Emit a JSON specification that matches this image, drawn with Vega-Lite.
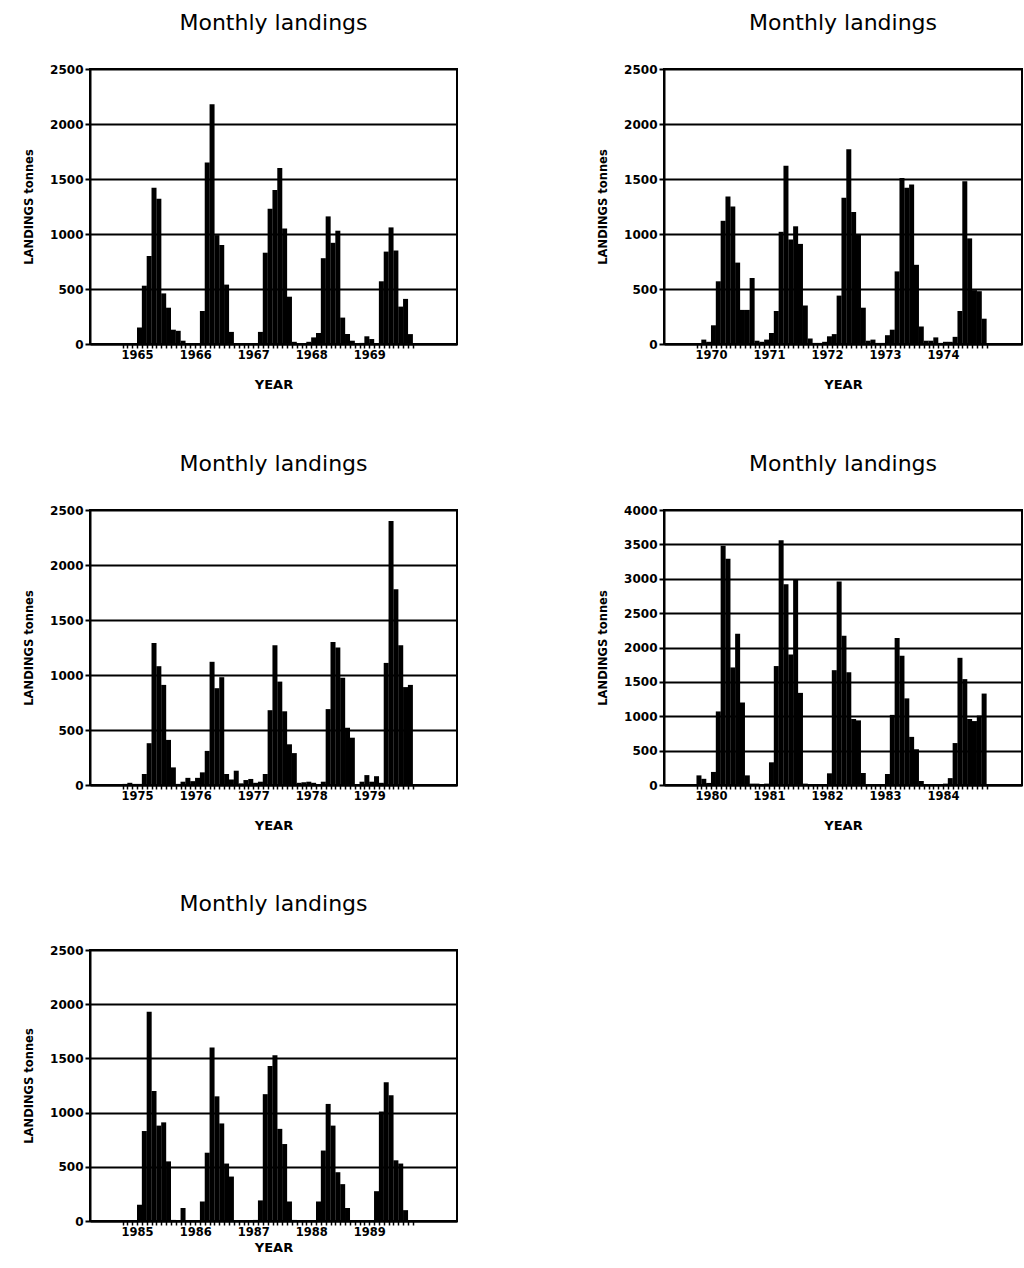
{
  "$schema": "https://vega.github.io/schema/vega-lite/v6.json",
  "background": "white",
  "padding": {"left": 22, "top": 11, "right": 0, "bottom": 0},
  "datasets": {
    "p1": [{"m":0,"v":0},{"m":1,"v":0},{"m":2,"v":5},{"m":3,"v":150},{"m":4,"v":530},{"m":5,"v":800},{"m":6,"v":1420},{"m":7,"v":1320},{"m":8,"v":460},{"m":9,"v":330},{"m":10,"v":130},{"m":11,"v":120},
           {"m":12,"v":30},{"m":13,"v":5},{"m":14,"v":0},{"m":15,"v":0},{"m":16,"v":300},{"m":17,"v":1650},{"m":18,"v":2180},{"m":19,"v":990},{"m":20,"v":900},{"m":21,"v":540},{"m":22,"v":110},{"m":23,"v":0},
           {"m":24,"v":0},{"m":25,"v":0},{"m":26,"v":0},{"m":27,"v":0},{"m":28,"v":110},{"m":29,"v":830},{"m":30,"v":1230},{"m":31,"v":1400},{"m":32,"v":1600},{"m":33,"v":1050},{"m":34,"v":430},{"m":35,"v":20},
           {"m":36,"v":0},{"m":37,"v":0},{"m":38,"v":20},{"m":39,"v":60},{"m":40,"v":100},{"m":41,"v":780},{"m":42,"v":1160},{"m":43,"v":920},{"m":44,"v":1030},{"m":45,"v":240},{"m":46,"v":90},{"m":47,"v":30},
           {"m":48,"v":5},{"m":49,"v":10},{"m":50,"v":70},{"m":51,"v":45},{"m":52,"v":5},{"m":53,"v":570},{"m":54,"v":840},{"m":55,"v":1060},{"m":56,"v":850},{"m":57,"v":340},{"m":58,"v":410},{"m":59,"v":90}],
    "p2": [{"m":0,"v":0},{"m":1,"v":40},{"m":2,"v":20},{"m":3,"v":170},{"m":4,"v":570},{"m":5,"v":1120},{"m":6,"v":1340},{"m":7,"v":1250},{"m":8,"v":740},{"m":9,"v":310},{"m":10,"v":310},{"m":11,"v":600},
           {"m":12,"v":30},{"m":13,"v":20},{"m":14,"v":40},{"m":15,"v":100},{"m":16,"v":300},{"m":17,"v":1020},{"m":18,"v":1620},{"m":19,"v":950},{"m":20,"v":1070},{"m":21,"v":910},{"m":22,"v":350},{"m":23,"v":50},
           {"m":24,"v":10},{"m":25,"v":10},{"m":26,"v":20},{"m":27,"v":70},{"m":28,"v":90},{"m":29,"v":440},{"m":30,"v":1330},{"m":31,"v":1770},{"m":32,"v":1200},{"m":33,"v":1000},{"m":34,"v":330},{"m":35,"v":30},
           {"m":36,"v":40},{"m":37,"v":10},{"m":38,"v":10},{"m":39,"v":80},{"m":40,"v":130},{"m":41,"v":660},{"m":42,"v":1510},{"m":43,"v":1420},{"m":44,"v":1450},{"m":45,"v":720},{"m":46,"v":160},{"m":47,"v":30},
           {"m":48,"v":30},{"m":49,"v":60},{"m":50,"v":10},{"m":51,"v":20},{"m":52,"v":20},{"m":53,"v":65},{"m":54,"v":300},{"m":55,"v":1480},{"m":56,"v":960},{"m":57,"v":490},{"m":58,"v":480},{"m":59,"v":230}],
    "p3": [{"m":0,"v":10},{"m":1,"v":20},{"m":2,"v":10},{"m":3,"v":10},{"m":4,"v":100},{"m":5,"v":380},{"m":6,"v":1290},{"m":7,"v":1080},{"m":8,"v":910},{"m":9,"v":410},{"m":10,"v":160},{"m":11,"v":10},
           {"m":12,"v":30},{"m":13,"v":65},{"m":14,"v":35},{"m":15,"v":65},{"m":16,"v":115},{"m":17,"v":310},{"m":18,"v":1120},{"m":19,"v":880},{"m":20,"v":980},{"m":21,"v":100},{"m":22,"v":50},{"m":23,"v":130},
           {"m":24,"v":15},{"m":25,"v":45},{"m":26,"v":55},{"m":27,"v":20},{"m":28,"v":30},{"m":29,"v":100},{"m":30,"v":680},{"m":31,"v":1270},{"m":32,"v":940},{"m":33,"v":670},{"m":34,"v":370},{"m":35,"v":290},
           {"m":36,"v":20},{"m":37,"v":25},{"m":38,"v":30},{"m":39,"v":20},{"m":40,"v":5},{"m":41,"v":30},{"m":42,"v":690},{"m":43,"v":1300},{"m":44,"v":1250},{"m":45,"v":975},{"m":46,"v":520},{"m":47,"v":430},
           {"m":48,"v":0},{"m":49,"v":30},{"m":50,"v":90},{"m":51,"v":30},{"m":52,"v":80},{"m":53,"v":20},{"m":54,"v":1110},{"m":55,"v":2400},{"m":56,"v":1780},{"m":57,"v":1270},{"m":58,"v":890},{"m":59,"v":910}],
    "p4": [{"m":0,"v":140},{"m":1,"v":90},{"m":2,"v":30},{"m":3,"v":190},{"m":4,"v":1070},{"m":5,"v":3480},{"m":6,"v":3290},{"m":7,"v":1710},{"m":8,"v":2200},{"m":9,"v":1200},{"m":10,"v":140},{"m":11,"v":20},
           {"m":12,"v":20},{"m":13,"v":15},{"m":14,"v":20},{"m":15,"v":330},{"m":16,"v":1730},{"m":17,"v":3560},{"m":18,"v":2920},{"m":19,"v":1900},{"m":20,"v":2990},{"m":21,"v":1340},{"m":22,"v":20},{"m":23,"v":10},
           {"m":24,"v":10},{"m":25,"v":10},{"m":26,"v":10},{"m":27,"v":170},{"m":28,"v":1670},{"m":29,"v":2960},{"m":30,"v":2170},{"m":31,"v":1640},{"m":32,"v":960},{"m":33,"v":940},{"m":34,"v":175},{"m":35,"v":10},
           {"m":36,"v":10},{"m":37,"v":10},{"m":38,"v":5},{"m":39,"v":160},{"m":40,"v":1020},{"m":41,"v":2140},{"m":42,"v":1880},{"m":43,"v":1260},{"m":44,"v":700},{"m":45,"v":520},{"m":46,"v":60},{"m":47,"v":10},
           {"m":48,"v":10},{"m":49,"v":10},{"m":50,"v":10},{"m":51,"v":20},{"m":52,"v":100},{"m":53,"v":610},{"m":54,"v":1850},{"m":55,"v":1540},{"m":56,"v":960},{"m":57,"v":930},{"m":58,"v":1010},{"m":59,"v":1330}],
    "p5": [{"m":0,"v":0},{"m":1,"v":0},{"m":2,"v":5},{"m":3,"v":150},{"m":4,"v":830},{"m":5,"v":1930},{"m":6,"v":1200},{"m":7,"v":880},{"m":8,"v":910},{"m":9,"v":550},{"m":10,"v":10},{"m":11,"v":0},
           {"m":12,"v":120},{"m":13,"v":0},{"m":14,"v":0},{"m":15,"v":0},{"m":16,"v":180},{"m":17,"v":630},{"m":18,"v":1600},{"m":19,"v":1150},{"m":20,"v":900},{"m":21,"v":530},{"m":22,"v":410},{"m":23,"v":0},
           {"m":24,"v":0},{"m":25,"v":0},{"m":26,"v":5},{"m":27,"v":10},{"m":28,"v":190},{"m":29,"v":1170},{"m":30,"v":1430},{"m":31,"v":1530},{"m":32,"v":850},{"m":33,"v":710},{"m":34,"v":180},{"m":35,"v":10},
           {"m":36,"v":5},{"m":37,"v":5},{"m":38,"v":5},{"m":39,"v":5},{"m":40,"v":180},{"m":41,"v":650},{"m":42,"v":1080},{"m":43,"v":880},{"m":44,"v":450},{"m":45,"v":340},{"m":46,"v":120},{"m":47,"v":5},
           {"m":48,"v":0},{"m":49,"v":0},{"m":50,"v":0},{"m":51,"v":0},{"m":52,"v":275},{"m":53,"v":1010},{"m":54,"v":1280},{"m":55,"v":1160},{"m":56,"v":560},{"m":57,"v":530},{"m":58,"v":100},{"m":59,"v":0}]
  },
  "vconcat": [
    {
      "vconcat": [
        {
          "hconcat": [
            {
              "width": 367, "height": 275,
              "title": {"text": "Monthly landings"},
              "data": {"name": "p1"},
              "mark": {"type": "bar", "width": 5, "color": "black"},
              "encoding": {
                "x": {"field": "m", "type": "quantitative", "scale": {"domain": [-6.2, 67.6], "nice": false, "zero": false},
                      "axis": {"values": [-0.5,0.5,1.5,2.5,3.5,4.5,5.5,6.5,7.5,8.5,9.5,10.5,11.5,12.5,13.5,14.5,15.5,16.5,17.5,18.5,19.5,20.5,21.5,22.5,23.5,24.5,25.5,26.5,27.5,28.5,29.5,30.5,31.5,32.5,33.5,34.5,35.5,36.5,37.5,38.5,39.5,40.5,41.5,42.5,43.5,44.5,45.5,46.5,47.5,48.5,49.5,50.5,51.5,52.5,53.5,54.5,55.5,56.5,57.5,58.5,59.5],
                               "labelExpr": "datum.value % 12 == 2.5 ? '' + (1965 + floor(datum.value / 12)) : ''", "title": "YEAR"}},
                "y": {"field": "v", "type": "quantitative", "scale": {"domain": [0, 2500], "nice": false},
                      "axis": {"values": [0,500,1000,1500,2000,2500], "format": "d", "title": "LANDINGS tonnes"}}
              }
            },
            {
              "width": 358, "height": 275,
              "title": {"text": "Monthly landings"},
              "data": {"name": "p2"},
              "mark": {"type": "bar", "width": 5, "color": "black"},
              "encoding": {
                "x": {"field": "m", "type": "quantitative", "scale": {"domain": [-6.2, 65.8], "nice": false, "zero": false},
                      "axis": {"values": [-0.5,0.5,1.5,2.5,3.5,4.5,5.5,6.5,7.5,8.5,9.5,10.5,11.5,12.5,13.5,14.5,15.5,16.5,17.5,18.5,19.5,20.5,21.5,22.5,23.5,24.5,25.5,26.5,27.5,28.5,29.5,30.5,31.5,32.5,33.5,34.5,35.5,36.5,37.5,38.5,39.5,40.5,41.5,42.5,43.5,44.5,45.5,46.5,47.5,48.5,49.5,50.5,51.5,52.5,53.5,54.5,55.5,56.5,57.5,58.5,59.5],
                               "labelExpr": "datum.value % 12 == 2.5 ? '' + (1970 + floor(datum.value / 12)) : ''", "title": "YEAR"}},
                "y": {"field": "v", "type": "quantitative", "scale": {"domain": [0, 2500], "nice": false},
                      "axis": {"values": [0,500,1000,1500,2000,2500], "format": "d", "title": "LANDINGS tonnes"}}
              }
            }
          ],
          "spacing": 138
        },
        {
          "hconcat": [
            {
              "width": 367, "height": 275,
              "title": {"text": "Monthly landings"},
              "data": {"name": "p3"},
              "mark": {"type": "bar", "width": 5, "color": "black"},
              "encoding": {
                "x": {"field": "m", "type": "quantitative", "scale": {"domain": [-6.2, 67.6], "nice": false, "zero": false},
                      "axis": {"values": [-0.5,0.5,1.5,2.5,3.5,4.5,5.5,6.5,7.5,8.5,9.5,10.5,11.5,12.5,13.5,14.5,15.5,16.5,17.5,18.5,19.5,20.5,21.5,22.5,23.5,24.5,25.5,26.5,27.5,28.5,29.5,30.5,31.5,32.5,33.5,34.5,35.5,36.5,37.5,38.5,39.5,40.5,41.5,42.5,43.5,44.5,45.5,46.5,47.5,48.5,49.5,50.5,51.5,52.5,53.5,54.5,55.5,56.5,57.5,58.5,59.5],
                               "labelExpr": "datum.value % 12 == 2.5 ? '' + (1975 + floor(datum.value / 12)) : ''", "title": "YEAR"}},
                "y": {"field": "v", "type": "quantitative", "scale": {"domain": [0, 2500], "nice": false},
                      "axis": {"values": [0,500,1000,1500,2000,2500], "format": "d", "title": "LANDINGS tonnes"}}
              }
            },
            {
              "width": 358, "height": 275,
              "title": {"text": "Monthly landings"},
              "data": {"name": "p4"},
              "mark": {"type": "bar", "width": 5, "color": "black"},
              "encoding": {
                "x": {"field": "m", "type": "quantitative", "scale": {"domain": [-6.2, 65.8], "nice": false, "zero": false},
                      "axis": {"values": [-0.5,0.5,1.5,2.5,3.5,4.5,5.5,6.5,7.5,8.5,9.5,10.5,11.5,12.5,13.5,14.5,15.5,16.5,17.5,18.5,19.5,20.5,21.5,22.5,23.5,24.5,25.5,26.5,27.5,28.5,29.5,30.5,31.5,32.5,33.5,34.5,35.5,36.5,37.5,38.5,39.5,40.5,41.5,42.5,43.5,44.5,45.5,46.5,47.5,48.5,49.5,50.5,51.5,52.5,53.5,54.5,55.5,56.5,57.5,58.5,59.5],
                               "labelExpr": "datum.value % 12 == 2.5 ? '' + (1980 + floor(datum.value / 12)) : ''", "title": "YEAR"}},
                "y": {"field": "v", "type": "quantitative", "scale": {"domain": [0, 4000], "nice": false},
                      "axis": {"values": [0,500,1000,1500,2000,2500,3000,3500,4000], "format": "d", "title": "LANDINGS tonnes"}}
              }
            }
          ],
          "spacing": 138
        }
      ],
      "spacing": 59
    },
    {
      "width": 367, "height": 271,
      "title": {"text": "Monthly landings"},
      "data": {"name": "p5"},
      "mark": {"type": "bar", "width": 5, "color": "black"},
      "encoding": {
        "x": {"field": "m", "type": "quantitative", "scale": {"domain": [-6.2, 67.6], "nice": false, "zero": false},
              "axis": {"values": [-0.5,0.5,1.5,2.5,3.5,4.5,5.5,6.5,7.5,8.5,9.5,10.5,11.5,12.5,13.5,14.5,15.5,16.5,17.5,18.5,19.5,20.5,21.5,22.5,23.5,24.5,25.5,26.5,27.5,28.5,29.5,30.5,31.5,32.5,33.5,34.5,35.5,36.5,37.5,38.5,39.5,40.5,41.5,42.5,43.5,44.5,45.5,46.5,47.5,48.5,49.5,50.5,51.5,52.5,53.5,54.5,55.5,56.5,57.5,58.5,59.5],
                       "labelExpr": "datum.value % 12 == 2.5 ? '' + (1985 + floor(datum.value / 12)) : ''", "title": "YEAR", "titlePadding": 4}},
        "y": {"field": "v", "type": "quantitative", "scale": {"domain": [0, 2500], "nice": false},
              "axis": {"values": [0,500,1000,1500,2000,2500], "format": "d", "title": "LANDINGS tonnes"}}
      }
    }
  ],
  "spacing": 58,
  "config": {
    "view": {"stroke": "black", "strokeWidth": 2},
    "title": {"font": "DejaVu Sans", "fontSize": 22, "fontWeight": "normal", "color": "black", "anchor": "middle", "offset": 28},
    "axisX": {"grid": false, "domainColor": "black", "domainWidth": 2, "tickColor": "black", "tickWidth": 1.5, "tickSize": 4,
              "labelFont": "DejaVu Sans", "labelFontWeight": "bold", "labelFontSize": 11.5, "labelColor": "black", "labelPadding": 1,
              "labelOverlap": false, "labelFlush": false, "labelBound": false,
              "titleFont": "DejaVu Sans", "titleFontWeight": "bold", "titleFontSize": 13, "titleColor": "black", "titlePadding": 18},
    "axisY": {"grid": true, "gridColor": "black", "gridWidth": 2, "gridOpacity": 1, "domainColor": "black", "domainWidth": 2,
              "tickColor": "black", "tickWidth": 2, "tickSize": 5,
              "labelFont": "DejaVu Sans", "labelFontWeight": "bold", "labelFontSize": 12, "labelColor": "black", "labelPadding": 2,
              "titleFont": "DejaVu Sans", "titleFontWeight": "bold", "titleFontSize": 11.5, "titleColor": "black", "titlePadding": 15}
  }
}
